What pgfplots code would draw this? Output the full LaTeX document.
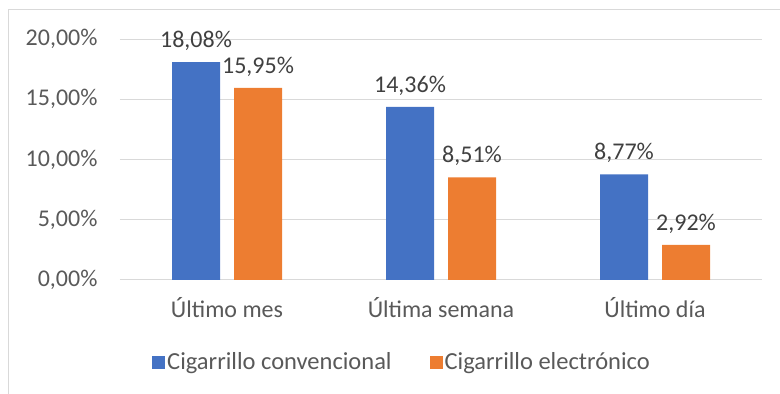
\documentclass[border=0pt]{standalone}
\usepackage{pgfplots}
\pgfplotsset{compat=1.18}
\usepackage{fontspec}
\setmainfont{Carlito}
\definecolor{cblue}{HTML}{4472C4}
\definecolor{corange}{HTML}{ED7D31}
\definecolor{gridc}{HTML}{D9D9D9}
\definecolor{txt}{HTML}{595959}
\definecolor{lbl}{HTML}{404040}
\begin{document}
\begin{tikzpicture}[x=1pt,y=1pt]
\path[use as bounding box] (0,0) rectangle (780,394);
\draw[gridc,line width=1pt] (8,0) -- (8,384) -- (780,384);
\begin{axis}[
  at={(120pt,114pt)}, anchor=south west,
  scale only axis, width=642pt, height=241pt,
  xmin=-0.5, xmax=2.5, ymin=0, ymax=20,
  ybar=14pt, bar width=48pt,
  axis line style={draw=none},
  major tick length=0pt,
  ymajorgrids, grid style={gridc,line width=1pt},
  ytick={0,5,10,15,20},
  yticklabels={{0,00\%},{5,00\%},{10,00\%},{15,00\%},{20,00\%}},
  xtick={0,1,2},
  xticklabels={Último mes,Última semana,Último día},
  tick label style={font=\fontsize{24}{28}\selectfont, text=txt},
  yticklabel style={xshift=-19pt},
  xticklabel style={yshift=-14pt},
  nodes near coords,
  point meta=explicit symbolic,
  every node near coord/.append style={font=\fontsize{24}{28}\selectfont, text=lbl, yshift=8pt},
  legend columns=2,
  legend style={draw=none, fill=none, at={(282pt,-82pt)}, anchor=center,
    font=\fontsize{24.5}{28}\selectfont, text=txt,
    /tikz/every even column/.append style={column sep=36pt}},
  legend image code/.code={\fill[#1,draw=none] (0pt,-6.5pt) rectangle (13pt,6.5pt);},
  clip=false,
]
\addplot[fill=cblue, draw=none] table[meta=lab] {
x y lab
0 18.08 18,08\%
1 14.36 14,36\%
2 8.77 8,77\%
};
\addplot[fill=corange, draw=none] table[meta=lab] {
x y lab
0 15.95 15,95\%
1 8.51 8,51\%
2 2.92 2,92\%
};
\legend{Cigarrillo convencional, Cigarrillo electrónico}
\end{axis}
\end{tikzpicture}
\end{document}
